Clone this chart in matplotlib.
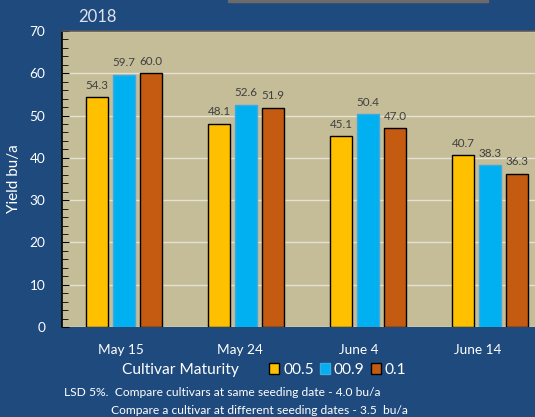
import matplotlib
matplotlib.use("Agg")
import matplotlib.pyplot as plt
import numpy as np
from matplotlib.patches import Rectangle

plt.rcParams['font.family'] = ['Lato', 'DejaVu Sans']

categories = ["May 15", "May 24", "June 4", "June 14"]
series_names = ["00.5", "00.9", "0.1"]
v005 = [54.3, 48.1, 45.1, 40.7]
v009 = [59.7, 52.6, 50.4, 38.3]
v01 = [60.0, 51.9, 47.0, 36.3]
colors = ["#FFC000", "#00B0F0", "#C55A11"]
edges = ["black", "#3FA9E0", "black"]

BG = "#1F4A7D"
fig = plt.figure(figsize=(5.35, 4.17), dpi=100, facecolor=BG)
ax = fig.add_axes([62/535, 90/417, 1 - 62/535, 296/417])
ax.set_facecolor("#C4BD97")

x = np.arange(len(categories))
w = 0.176
off = 0.221
for i, (vals, c, ec) in enumerate(zip([v005, v009, v01], colors, edges)):
    xs = x + (i - 1) * off
    bars = ax.bar(xs, vals, width=w, color=c, edgecolor=ec, linewidth=1.0, zorder=3, label=series_names[i])
    for b, v in zip(bars, vals):
        ax.text(b.get_x() + b.get_width() / 2, v + 1.5, f"{v:.1f}", ha="center", va="bottom",
                fontsize=8.4, color="#404040", zorder=4)

ax.set_ylim(0, 70)
ax.set_xlim(-0.508, 3.369)
ax.set_yticks(np.arange(0, 71, 10))
ax.set_yticks(np.arange(0, 71, 2), minor=True)
ax.yaxis.grid(True, which="major", color="#E6E2D3", linewidth=1.0, zorder=0)
ax.tick_params(axis="y", which="both", direction="in", colors="black", labelcolor="white",
               labelsize=9.8, pad=12)
ax.tick_params(axis="y", which="major", length=5)
ax.tick_params(axis="y", which="minor", length=4)
ax.set_xticks(x * 0.975 - 0.025)
ax.set_xticklabels(categories)
ax.tick_params(axis="x", length=0, labelcolor="white", labelsize=9.8, pad=12)
for s in ["right", "bottom"]:
    ax.spines[s].set_visible(False)
ax.spines["left"].set_color("black")
ax.spines["left"].set_linewidth(1.2)
ax.spines["top"].set_color("#555555")
ax.spines["top"].set_linewidth(1.2)

ax.set_ylabel("Yield bu/a", color="white", fontsize=11, labelpad=2)
ax.yaxis.set_label_coords(-0.086, 0.5)

fig.text(78/535, 1 - 17/417, "2018", color="#DDE3EC", fontsize=12, ha="left", va="center")

fig.text(180/535, 1 - 370/417, "Cultivar Maturity", color="white", fontsize=11.2, ha="center", va="center")
leg = fig.legend(loc="center left", bbox_to_anchor=(269/535, 1 - 370/417), ncol=3, frameon=False,
                 fontsize=11.2, labelcolor="white", handlelength=0.65, handleheight=0.65,
                 handletextpad=0.25, columnspacing=0.4, borderaxespad=0, borderpad=0)

fig.text(64/535, 1 - 393/417, "LSD 5%.  Compare cultivars at same seeding date - 4.0 bu/a",
         color="white", fontsize=8.65, ha="left", va="center")
fig.text(111/535, 1 - 410/417, "Compare a cultivar at different seeding dates - 3.5  bu/a",
         color="white", fontsize=8.65, ha="left", va="center")

fig.patches.append(Rectangle((228/535, 1 - 2/417), 260/535, 2/417, transform=fig.transFigure,
                             color="#6E6A6A", zorder=5))

fig.savefig("out.png", dpi=100, facecolor=BG)
